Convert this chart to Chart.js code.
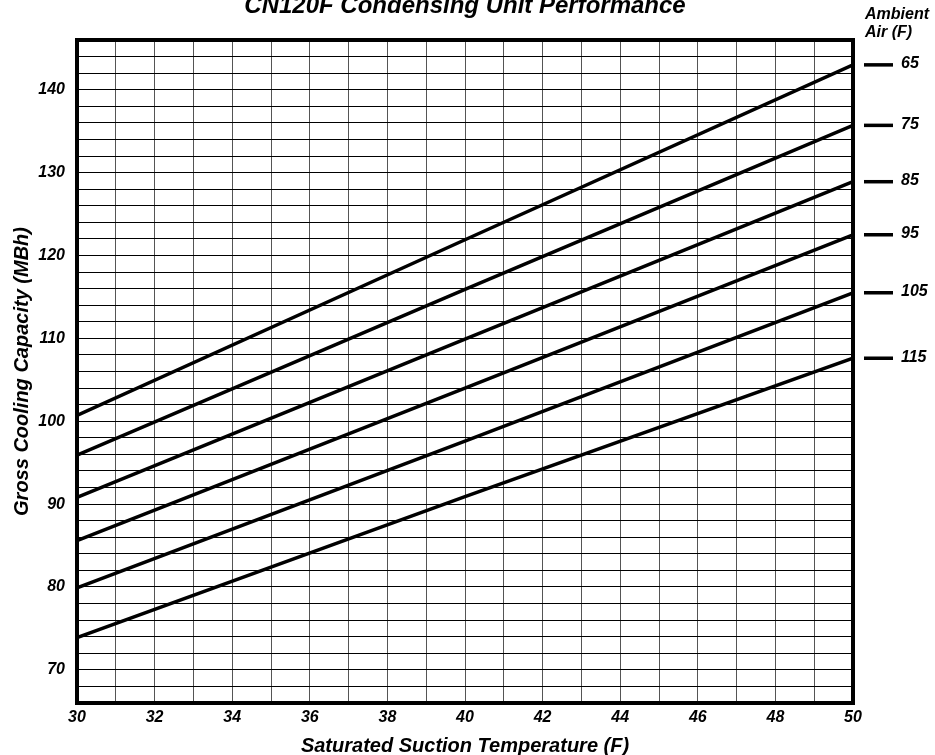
<!DOCTYPE html>
<html>
<head>
<meta charset="utf-8">
<script src="https://cdn.jsdelivr.net/npm/chart.js@4/dist/chart.umd.min.js"></script>
<style>
  html, body { margin: 0; padding: 0; background: #fff; }
  #wrap { width: 935px; height: 755px; }
</style>
</head>
<body>
<div id="wrap"><canvas id="chart"></canvas></div>
<script>
// Data
const suctionTemps = [30, 40, 50];
const ambientLabels = ['65', '75', '85', '95', '105', '115'];
const cap65 = [100.7, 121.9, 143.0];
const cap75 = [95.9, 115.9, 135.7];
const cap85 = [90.8, 109.9, 128.9];
const cap95 = [85.6, 104.0, 122.5];
const cap105 = [79.9, 97.6, 115.5];
const cap115 = [73.9, 90.9, 107.6];

const FONT = '"Liberation Sans", Arial, sans-serif';

// Title, side legend and frame
const extras = {
    id: 'extras',
    afterDraw(chart) {
        const ctx = chart.ctx;
        const area = chart.chartArea;
        const yScale = chart.scales.y;
        ctx.save();

        // thick frame
        ctx.strokeStyle = '#000';
        ctx.lineWidth = 4;
        ctx.strokeRect(area.left, area.top, area.right - area.left, area.bottom - area.top);

        ctx.fillStyle = '#000';
        ctx.textBaseline = 'alphabetic';

        // title (clipped at top like the original)
        ctx.font = 'italic bold 24px ' + FONT;
        ctx.textAlign = 'center';
        ctx.fillText('CN120F Condensing Unit Performance', (area.left + area.right) / 2, 13);

        // x axis title
        ctx.font = 'italic bold 20px ' + FONT;
        ctx.fillText('Saturated Suction Temperature (F)', (area.left + area.right) / 2, 752);

        // y axis title
        ctx.save();
        ctx.translate(28, (area.top + area.bottom) / 2);
        ctx.rotate(-Math.PI / 2);
        ctx.fillText('Gross Cooling Capacity (MBh)', 0, 0);
        ctx.restore();

        // legend header
        ctx.textBaseline = 'middle';
        ctx.textAlign = 'left';
        ctx.font = 'italic bold 16px ' + FONT;
        ctx.fillText('Ambient', 865, 15);
        ctx.fillText('Air (F)', 865, 33);

        // legend entries at the end of each line
        chart.data.datasets.forEach((ds) => {
            const last = ds.data[ds.data.length - 1];
            const y = yScale.getPixelForValue(last.y);
            ctx.lineWidth = 3.5;
            ctx.beginPath();
            ctx.moveTo(864, y);
            ctx.lineTo(893, y);
            ctx.stroke();
            ctx.fillText(ds.label, 901, y - 1);
        });
        ctx.restore();
    }
};

const seriesList = [cap65, cap75, cap85, cap95, cap105, cap115];
const datasets = seriesList.map((vals, i) => ({
    label: ambientLabels[i],
    data: suctionTemps.map((t, j) => ({ x: t, y: vals[j] })),
    borderColor: '#000',
    borderWidth: 3.5,
    pointRadius: 0,
    fill: false,
    tension: 0
}));

const ctx = document.getElementById('chart').getContext('2d');
const chart = new Chart(ctx, {
    type: 'line',
    data: { datasets: datasets },
    options: {
        responsive: true,
        maintainAspectRatio: false,
        animation: false,
        devicePixelRatio: 1,
        layout: { padding: { top: 40, right: 82, left: 0, bottom: 0 } },
        plugins: {
            legend: { display: false },
            title: { display: false },
            tooltip: { enabled: false }
        },
        scales: {
            x: {
                type: 'linear',
                min: 30,
                max: 50,
                ticks: {
                    stepSize: 1,
                    autoSkip: false,
                    maxRotation: 0,
                    padding: 5,
                    color: '#000',
                    font: { family: FONT, size: 16, style: 'italic', weight: 'bold' },
                    callback: (v) => (v % 2 === 0 ? v : '')
                },
                grid: { color: '#555', lineWidth: 1, drawTicks: false },
                border: { display: false },
                afterFit(scale) { scale.height = 52; }
            },
            y: {
                min: 66,
                max: 146,
                ticks: {
                    stepSize: 2,
                    autoSkip: false,
                    padding: 12,
                    color: '#000',
                    font: { family: FONT, size: 16, style: 'italic', weight: 'bold' },
                    callback: (v) => (v % 10 === 0 ? v : '')
                },
                grid: { color: '#000', lineWidth: 1, drawTicks: false },
                border: { display: false },
                afterFit(scale) { scale.width = 77; }
            }
        }
    },
    plugins: [extras]
});
</script>
</body>
</html>
